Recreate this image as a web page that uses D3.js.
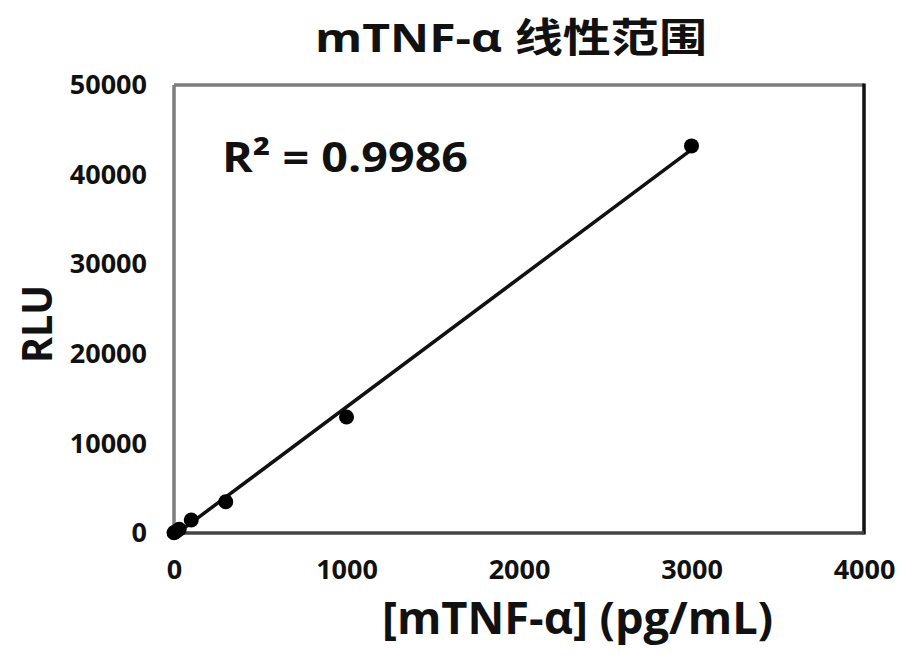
<!DOCTYPE html>
<html>
<head>
<meta charset="utf-8">
<script src="https://cdn.jsdelivr.net/npm/d3@7"></script>
<style>
  html, body { margin: 0; padding: 0; background: #fff; }
  svg { display: block; }
  .tick text { font-family: 'Open Sans', 'Noto Sans CJK SC', sans-serif; font-weight: 700; fill: #111; }
</style>
</head>
<body>
<div id="chart"></div>
<script>
// Data
var concentrations = [0, 10, 30, 100, 300, 1000, 3000]
var rluValues = [30, 150, 420, 1450, 3490, 12950, 43200]
var xTicks = [0, 1000, 2000, 3000, 4000]
var yTicks = [0, 10000, 20000, 30000, 40000, 50000]
var titleText = 'mTNF-α 线性范围'
var xTitle = '[mTNF-α] (pg/mL)'
var yTitle = 'RLU'
var r2Label = 'R² = 0.9986'

// Layout
var W = 922
var H = 663
var margin = { top: 85, right: 58, bottom: 130, left: 174 }
var innerW = W - margin.left - margin.right
var innerH = H - margin.top - margin.bottom
var font = "'Open Sans', 'Noto Sans CJK SC', sans-serif"

var svg = d3.select('#chart').append('svg')
  .attr('width', W)
  .attr('height', H)

var g = svg.append('g')
  .attr('transform', 'translate(' + margin.left + ',' + margin.top + ')')

var x = d3.scaleLinear().domain([0, 4000]).range([0, innerW])
var y = d3.scaleLinear().domain([0, 50000]).range([innerH, 0])

// Axes, labels only
var xAxis = g.append('g')
  .attr('transform', 'translate(0,' + innerH + ')')
  .call(d3.axisBottom(x).tickValues(xTicks).tickFormat(d3.format('d')).tickSize(0).tickPadding(27))
xAxis.select('.domain').remove()
xAxis.selectAll('text').style('font-size', '27px')

var yAxis = g.append('g')
  .call(d3.axisLeft(y).tickValues(yTicks).tickFormat(d3.format('d')).tickSize(0).tickPadding(27))
yAxis.select('.domain').remove()
yAxis.selectAll('text').style('font-size', '27px')

// Plot frame (blurred source: top/left lighter, right/bottom darker)
g.append('line').attr('x1', 0).attr('x2', innerW).attr('y1', 0).attr('y2', 0)
  .style('stroke', '#7d7d7d').style('stroke-width', 3.5)
g.append('line').attr('x1', 0).attr('x2', 0).attr('y1', 0).attr('y2', innerH)
  .style('stroke', '#7d7d7d').style('stroke-width', 3.5)
g.append('line').attr('x1', innerW).attr('x2', innerW).attr('y1', -1.5).attr('y2', innerH + 1.5)
  .style('stroke', '#111').style('stroke-width', 3.5)
g.append('line').attr('x1', 0).attr('x2', innerW).attr('y1', innerH).attr('y2', innerH)
  .style('stroke', '#444').style('stroke-width', 3.5)

// Linear trendline (least squares)
var mx = d3.mean(concentrations)
var my = d3.mean(rluValues)
var sxy = d3.sum(concentrations, function (d, i) { return (d - mx) * (rluValues[i] - my) })
var sxx = d3.sum(concentrations, function (d) { return (d - mx) * (d - mx) })
var slope = sxy / sxx
var intercept = my - slope * mx
var xEnds = d3.extent(concentrations)

g.append('line')
  .attr('x1', x(xEnds[0]))
  .attr('y1', y(slope * xEnds[0] + intercept))
  .attr('x2', x(xEnds[1]))
  .attr('y2', y(slope * xEnds[1] + intercept))
  .style('stroke', '#111')
  .style('stroke-width', 3.5)

// Points
g.selectAll('.dot')
  .data(concentrations)
  .enter().append('circle')
  .attr('class', 'dot')
  .attr('cx', function (d) { return x(d) })
  .attr('cy', function (d, i) { return y(rluValues[i]) })
  .attr('r', 7.5)
  .style('fill', '#000')

// R squared
svg.append('text')
  .attr('x', 222)
  .attr('y', 172)
  .attr('textLength', 246)
  .attr('lengthAdjust', 'spacingAndGlyphs')
  .style('font-family', font)
  .style('font-weight', 700)
  .style('font-size', '42px')
  .style('fill', '#111')
  .text(r2Label)

// Title
svg.append('text')
  .attr('x', 315)
  .attr('y', 52)
  .attr('textLength', 392)
  .attr('lengthAdjust', 'spacingAndGlyphs')
  .style('font-family', font)
  .style('font-weight', 700)
  .style('font-size', '40px')
  .style('fill', '#111')
  .text(titleText)

// X axis title
svg.append('text')
  .attr('x', 382)
  .attr('y', 634)
  .attr('textLength', 391)
  .attr('lengthAdjust', 'spacingAndGlyphs')
  .style('font-family', font)
  .style('font-weight', 700)
  .style('font-size', '44px')
  .style('fill', '#111')
  .text(xTitle)

// Y axis title
svg.append('text')
  .attr('transform', 'translate(52,363) rotate(-90)')
  .attr('textLength', 78)
  .attr('lengthAdjust', 'spacingAndGlyphs')
  .style('font-family', font)
  .style('font-weight', 700)
  .style('font-size', '42px')
  .style('fill', '#111')
  .text(yTitle)
</script>
</body>
</html>
